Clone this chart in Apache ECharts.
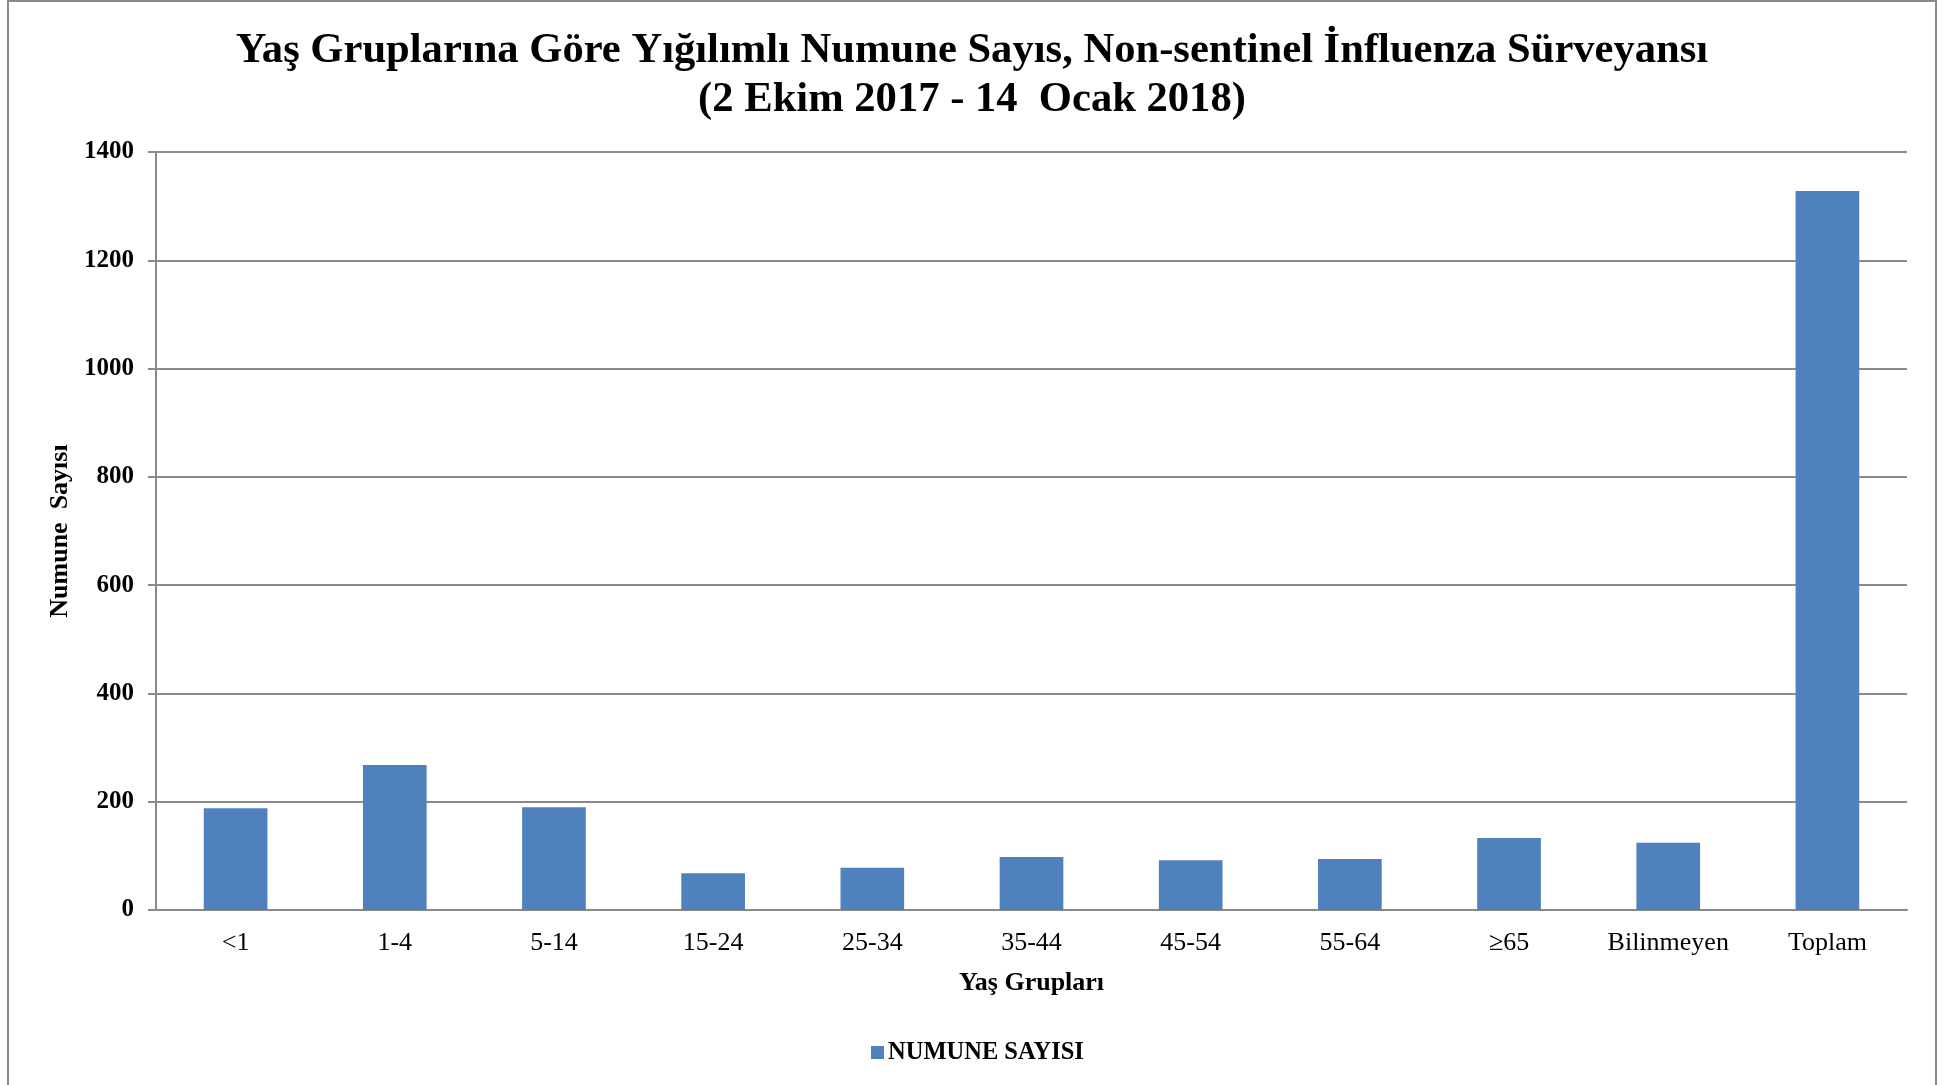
<!DOCTYPE html>
<html>
<head>
<meta charset="utf-8">
<title>Numune Sayısı</title>
<script src="https://cdn.jsdelivr.net/npm/echarts@6/dist/echarts.min.js"></script>
<style>
  html, body { margin: 0; padding: 0; background: #fff; }
  #chart { width: 1957px; height: 1085px; }
</style>
</head>
<body>
<div id="chart"></div>
<script>
// yaş grupları ve numune sayıları
var categories = ['<1', '1-4', '5-14', '15-24', '25-34', '35-44', '45-54', '55-64', '\u226565', 'Bilinmeyen', 'Toplam']
var numuneSayisi = [188, 268, 190, 68, 78, 98, 92, 94, 133, 124, 1328]
var yTicks = [0, 200, 400, 600, 800, 1000, 1200, 1400]

var serif = 'Liberation Serif, Times New Roman, serif'
var gray = '#8a8a8a'

var chart = echarts.init(document.getElementById('chart'))

var option = {
  backgroundColor: '#fff',
  animation: false,
  title: {
    text: 'Yaş Gruplarına Göre Yığılımlı Numune Sayıs, Non-sentinel İnfluenza Sürveyansı\n(2 Ekim 2017 - 14  Ocak 2018)',
    left: 967,
    textAlign: 'center',
    top: 21,
    textStyle: {
      fontFamily: serif,
      fontWeight: 'bold',
      fontSize: 42.6,
      lineHeight: 49,
      color: '#000'
    }
  },
  graphic: [{
    type: 'rect',
    shape: { x: 8, y: 1, width: 1928, height: 1100 },
    style: { fill: 'none', stroke: gray, lineWidth: 2 },
    silent: true
  }],
  legend: {
    data: ['NUMUNE SAYISI'],
    left: 866,
    top: 1035,
    itemWidth: 13,
    itemHeight: 13,
    itemGap: 5,
    icon: 'rect',
    textStyle: {
      fontFamily: serif,
      fontWeight: 'bold',
      fontSize: 24.5,
      color: '#000',
      padding: [0, 0, 0, -1]
    }
  },
  grid: {
    left: 156,
    right: 50,
    top: 152,
    bottom: 175
  },
  xAxis: {
    type: 'category',
    data: categories,
    name: 'Yaş Grupları',
    nameLocation: 'middle',
    nameGap: 60,
    nameTextStyle: {
      fontFamily: serif,
      fontWeight: 'bold',
      fontSize: 26,
      color: '#000'
    },
    axisLine: { lineStyle: { color: gray, width: 2 } },
    axisTick: { show: false },
    axisLabel: {
      fontFamily: serif,
      fontSize: 26,
      color: '#000',
      margin: 20
    }
  },
  yAxis: {
    type: 'value',
    min: yTicks[0],
    max: yTicks[yTicks.length - 1],
    interval: 200,
    name: 'Numune  Sayısı',
    nameLocation: 'middle',
    nameGap: 81,
    nameTextStyle: {
      fontFamily: serif,
      fontWeight: 'bold',
      fontSize: 26,
      color: '#000'
    },
    axisLine: { show: true, lineStyle: { color: gray, width: 2 } },
    axisTick: { show: true, length: 8, lineStyle: { color: gray, width: 2 } },
    splitLine: { lineStyle: { color: gray, width: 2 } },
    axisLabel: {
      fontFamily: serif,
      fontWeight: 'bold',
      fontSize: 25,
      color: '#000',
      margin: 22,
      formatter: function (value) {
        return String(value)
      }
    }
  },
  series: [{
    name: 'NUMUNE SAYISI',
    type: 'bar',
    barWidth: '40%',
    data: numuneSayisi,
    itemStyle: { color: '#4F81BD' }
  }]
}

chart.setOption(option)
</script>
</body>
</html>
